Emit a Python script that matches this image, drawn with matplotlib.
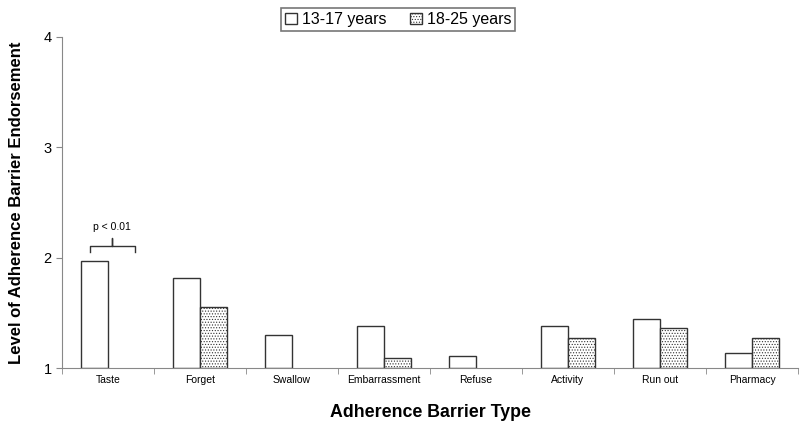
import numpy as np
import matplotlib
matplotlib.use("Agg")
import matplotlib.pyplot as plt
from matplotlib.patches import Patch

plt.rcParams['font.family'] = ['Liberation Sans', 'DejaVu Sans']
plt.rcParams['hatch.color'] = '#a0a0a0'
plt.rcParams['hatch.linewidth'] = 0.5

# ---------------- Data ----------------
categories = ["Taste", "Forget", "Swallow", "Embarrassment", "Refuse",
              "Activity", "Run out", "Pharmacy"]
teen_vals = [1.97, 1.82, 1.30, 1.38, 1.11, 1.38, 1.44, 1.14]      # 13-17 years
young_vals = [np.nan, 1.55, np.nan, 1.09, np.nan, 1.27, 1.36, 1.27]  # 18-25 years
series_labels = ["13-17 years", "18-25 years"]

# ---------------- Plot ----------------
fig = plt.figure(figsize=(8, 4.24), dpi=100)
ax = fig.add_axes([0.0775, 0.132, 0.92, 0.781])

x = np.arange(len(categories))
w = 0.29
base = 1.0
ax.bar(x - w / 2, np.array(teen_vals) - base, w, bottom=base,
       facecolor='white', edgecolor='#333333', linewidth=1.0)
ax.bar(x + w / 2, np.array(young_vals) - base, w, bottom=base,
       facecolor='white', edgecolor='#333333', linewidth=1.0, hatch='......')

ax.set_xlim(-0.5, len(categories) - 0.5)
ax.set_ylim(1, 4)
ax.set_yticks([1, 2, 3, 4])
ax.tick_params(axis='y', labelsize=10.5, length=4, color='#888888')
ax.set_xticks(x)
ax.set_xticklabels(categories, fontsize=7.5)
ax.set_xticks(np.arange(len(categories) + 1) - 0.5, minor=True)
ax.tick_params(axis='x', which='major', length=0, pad=5)
ax.tick_params(axis='x', which='minor', length=4, color='#888888')

for s in ['top', 'right']:
    ax.spines[s].set_visible(False)
for s in ['left', 'bottom']:
    ax.spines[s].set_color('#888888')

ax.set_ylabel("Level of Adherence Barrier Endorsement", fontsize=12,
              fontweight='bold', labelpad=14)
ax.set_xlabel("Adherence Barrier Type", fontsize=12.8, fontweight='bold',
              labelpad=14)

# significance bracket over Taste
bx0, bx1, by = x[0] - 0.195, x[0] + 0.29, 2.11
bm = (bx0 + bx1) / 2
ax.plot([bx0, bx0, bm, bm, bm, bx1, bx1],
        [by - 0.06, by, by, by + 0.07, by, by, by - 0.06],
        color='#333333', linewidth=1.0)
ax.text(bm, by + 0.12, "p < 0.01", ha='center', va='bottom', fontsize=7.5)

handles = [Patch(facecolor='white', edgecolor='#333333', label=series_labels[0]),
           Patch(facecolor='white', edgecolor='#333333', hatch='......',
                 label=series_labels[1])]
leg = fig.legend(handles=handles, loc='upper center', bbox_to_anchor=(0.4975, 1.0),
                 ncol=2, fontsize=11.5, frameon=True, fancybox=False,
                 handlelength=0.75, handleheight=0.75, handletextpad=0.3,
                 columnspacing=1.5, borderpad=0.25)
leg.get_frame().set_edgecolor('#555555')
leg.get_frame().set_linewidth(1.2)

fig.savefig("out.png", dpi=100)
